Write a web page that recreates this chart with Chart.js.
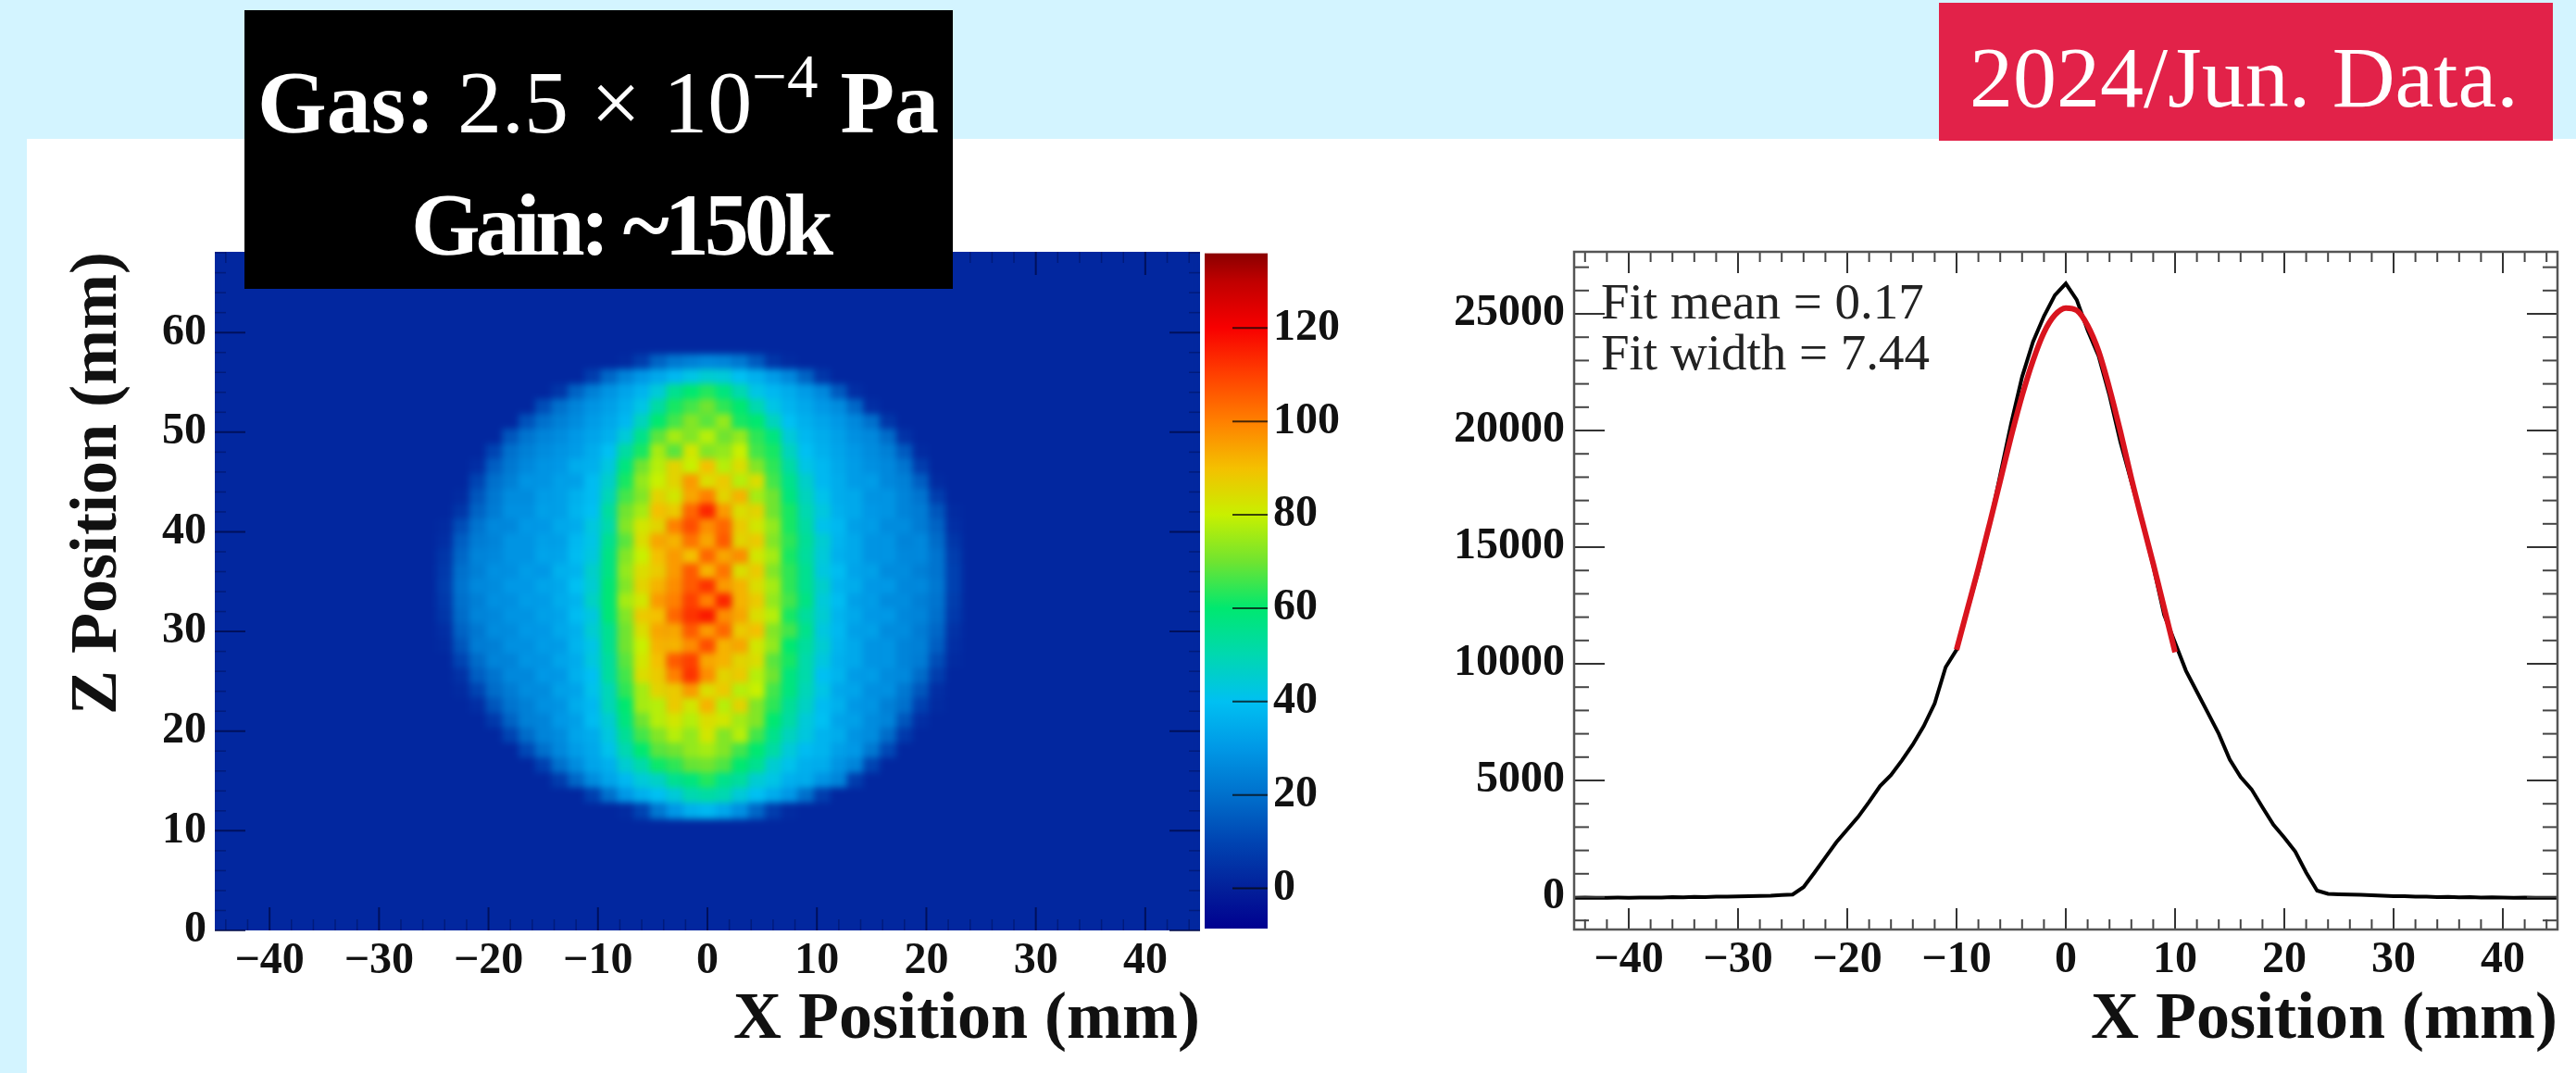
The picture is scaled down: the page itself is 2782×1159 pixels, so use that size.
<!DOCTYPE html>
<html><head><meta charset="utf-8">
<script src="https://cdn.jsdelivr.net/npm/chart.js@4/dist/chart.umd.min.js"></script>
<style>
html,body{margin:0;padding:0;width:2782px;height:1159px;overflow:hidden;background:#d3f4ff}
#panel{position:absolute;left:29px;top:150px;right:0;bottom:0;background:#fff}
canvas{position:absolute;filter:blur(.7px)}
.t{position:absolute;white-space:nowrap;font-family:"Liberation Serif",serif;line-height:1.107;color:#fff}
#gasBox{position:absolute;left:264px;top:11px;width:765px;height:301px;background:#000}
#dateBox{position:absolute;left:2094px;top:3px;width:663px;height:149px;background:#e22249}
</style></head><body>
<div id="panel"></div>
<canvas id="heat" width="1270" height="1009" style="left:29px;top:150px"></canvas>
<canvas id="bar" width="200" height="803" style="left:1300px;top:200px"></canvas>
<canvas id="prof" width="1222" height="959" style="left:1560px;top:200px"></canvas>
<div id="gasBox"></div><div id="dateBox"></div>
<div class="t" style="left:278px;top:58px;font-size:96px"><b>Gas:</b> 2.5 × 10<span style="font-size:67px;position:relative;top:-38px;line-height:0">−4</span> <b>Pa</b></div>
<div class="t" style="left:444px;top:189.5px;font-size:96px;font-weight:bold;letter-spacing:-5px">Gain: ~150k</div>
<div class="t" style="left:2127px;top:31px;font-size:94px">2024/Jun. Data.</div>
<div class="t" style="left:1729px;top:296px;font-size:55px;color:#222;filter:blur(.6px)">Fit mean = 0.17</div>
<div class="t" style="left:1729px;top:351px;font-size:55px;color:#222;filter:blur(.6px)">Fit width = 7.44</div>
<script>
// ---- colour scale
const colorStops = [-8.6,0,10,20,30,40,50,60,70,80,90,100,110,120,130,136];
const colorHex = ['#000090','#03209a','#0044b2','#0070cc','#0098e6','#00c0f2','#00d8b0','#00e870','#70e430','#c8f000','#f4c000','#ff8000','#ff4000','#f80000','#c00000','#8a0000'];
const colorBarRange = [-8.6,136];
const colorTicks = [0,20,40,60,80,100,120];

// ---- heat map (counts per cell; x / z in mm), cells outside the spot sit at the background level
const backgroundLevel = 2;
const heatX = [-25.5,-24,-22.5,-21,-19.5,-18,-16.5,-15,-13.5,-12,-10.5,-9,-7.5,-6,-4.5,-3,-1.5,0,1.5,3,4.5,6,7.5,9,10.5,12,13.5,15,16.5,18,19.5,21,22.5,24];
const heatZ = [57,55.5,54,52.5,51,49.5,48,46.5,45,43.5,42,40.5,39,37.5,36,34.5,33,31.5,30,28.5,27,25.5,24,22.5,21,19.5,18,16.5,15,13.5,12];
const heatValues = [
[2,2,2,2,2,2,2,2,2,2,2,2,3,8,17,22,24,26,25,22,15,6,3,2,2,2,2,2,2,2,2,2,2,2],
[2,2,2,2,2,2,2,2,2,2,8,18,25,30,34,38,42,45,44,40,36,31,26,17,6,2,2,2,2,2,2,2,2,2],
[2,2,2,2,2,2,2,2,6,17,24,29,33,37,44,55,60,63,58,50,42,38,35,31,26,15,4,2,2,2,2,2,2,2],
[2,2,2,2,2,2,2,12,20,25,29,32,36,42,52,62,66,70,64,60,50,42,37,34,30,27,18,4,2,2,2,2,2,2],
[2,2,2,2,2,2,13,20,24,27,31,34,38,48,60,66,72,68,74,62,60,48,40,36,33,30,26,20,6,2,2,2,2,2],
[2,2,2,2,2,14,21,25,27,30,33,36,44,56,68,76,72,78,70,74,64,58,44,38,35,32,28,26,19,5,2,2,2,2],
[2,2,2,2,10,20,24,27,29,31,35,40,52,62,76,68,82,72,74,80,66,62,48,40,36,33,30,27,24,15,3,2,2,2],
[2,2,2,4,16,22,26,29,30,35,36,43,58,70,78,86,80,90,78,84,72,64,52,42,38,34,31,28,26,21,8,2,2,2],
[2,2,2,10,20,24,29,29,32,32,39,46,62,74,80,86,96,84,88,78,84,66,56,46,38,35,31,31,26,24,16,3,2,2],
[2,2,3,14,22,27,27,31,32,36,39,49,66,72,86,82,94,100,86,92,76,70,58,48,41,35,34,29,29,25,21,8,2,2],
[2,2,6,17,23,28,28,32,32,37,40,53,70,76,90,88,104,114,96,84,86,70,62,50,43,36,34,30,29,25,23,14,3,2],
[2,3,12,21,26,26,30,30,34,35,43,51,72,82,86,100,108,98,104,88,82,74,62,52,41,38,32,31,27,27,23,17,4,2],
[2,4,16,23,25,29,29,32,32,38,42,55,68,84,94,92,102,94,106,86,88,72,64,54,45,37,34,29,29,25,26,19,6,2],
[2,6,18,25,26,29,29,33,33,39,43,57,72,80,90,96,90,104,94,98,82,76,62,53,44,36,34,29,29,26,26,21,8,2],
[2,7,20,24,28,28,31,30,36,37,46,57,74,84,88,96,106,92,102,84,88,72,64,55,43,39,33,32,27,27,24,21,9,2],
[2,8,21,26,27,30,30,33,34,40,45,59,72,86,92,98,106,112,96,92,84,76,64,55,46,37,35,30,30,26,26,22,9,2],
[2,7,20,24,28,28,31,31,35,37,47,59,76,82,96,100,110,100,114,92,88,74,66,57,44,39,32,31,27,27,24,21,8,2],
[2,6,19,25,26,29,29,32,33,39,43,59,72,88,90,104,112,116,98,94,84,78,62,53,45,37,34,30,30,26,25,20,7,2],
[2,4,17,22,27,27,30,30,34,36,45,55,70,84,94,94,106,96,104,88,90,72,66,56,43,38,32,32,27,27,23,18,5,2],
[2,3,14,23,24,28,28,31,31,37,42,55,70,80,92,92,98,108,92,94,82,74,60,53,45,37,34,29,29,25,24,16,4,2],
[2,2,10,19,25,25,29,29,33,35,43,53,68,82,90,106,110,94,92,86,84,68,62,51,43,36,34,29,29,25,23,12,3,2],
[2,2,5,16,21,26,26,30,30,36,40,53,66,84,88,100,112,98,86,88,78,70,58,51,40,37,31,31,27,26,19,8,2,2],
[2,2,3,10,19,23,27,27,32,33,41,49,64,76,86,88,96,84,88,78,80,66,58,49,42,34,33,28,28,22,14,4,2,2],
[2,2,2,4,14,21,24,28,29,35,38,49,60,76,78,88,82,92,78,86,72,64,54,47,39,36,30,29,24,20,9,3,2,2],
[2,2,2,2,7,17,24,25,30,32,39,45,58,70,78,82,78,84,82,76,72,60,52,44,40,33,32,27,25,14,4,2,2,2],
[2,2,2,2,2,10,19,25,27,33,35,43,54,66,72,78,74,82,72,78,66,56,48,43,37,35,29,27,19,7,2,2,2,2],
[2,2,2,2,2,2,11,20,26,31,34,41,50,60,68,70,74,76,72,66,60,52,44,39,37,32,30,22,11,2,2,2,2,2],
[2,2,2,2,2,2,2,9,20,27,33,36,45,51,61,64,69,70,67,60,55,45,41,36,35,29,25,10,2,2,2,2,2,2],
[2,2,2,2,2,2,2,2,8,18,27,33,38,44,47,55,58,63,56,53,45,42,36,35,29,25,8,2,2,2,2,2,2,2],
[2,2,2,2,2,2,2,2,2,2,9,20,30,36,40,44,50,52,50,44,40,35,30,20,8,2,2,2,2,2,2,2,2,2],
[2,2,2,2,2,2,2,2,2,2,2,2,3,10,22,30,36,38,34,28,18,8,3,2,2,2,2,2,2,2,2,2,2,2]
];

// ---- projected profile
const profileX = [-45,-44,-43,-42,-41,-40,-39,-38,-37,-36,-35,-34,-33,-32,-31,-30,-29,-28,-27,-26,-25,-24,-23,-22,-21,-20,-19,-18,-17,-16,-15,-14,-13,-12,-11,-10,-9,-8,-7,-6,-5,-4,-3,-2,-1,0,1,2,3,4,5,6,7,8,9,10,11,12,13,14,15,16,17,18,19,20,21,22,23,24,25,26,27,28,29,30,31,32,33,34,35,36,37,38,39,40,41,42,43,44,45];
const profileY = [-30,-20,-30,-25,-20,-25,-15,-20,-15,0,-10,10,0,20,15,30,35,50,60,90,110,430,1050,1700,2350,2900,3440,4080,4760,5230,5860,6540,7330,8300,9850,10600,12300,14000,15900,18100,20300,22300,23800,24900,25800,26300,25600,24300,23200,21500,19500,17800,16100,14200,12100,10900,9700,8800,7900,7000,5900,5150,4620,3850,3100,2550,1950,1050,280,140,120,110,100,80,60,40,35,20,15,0,10,-10,-5,-15,-10,-20,-25,-20,-30,-25,-30];
const fitX = [-10,-9,-8,-7,-6,-5,-4,-3,-2,-1,0,1,2,3,4,5,6,7,8,9,10];
const fitY = [10600,12350,14100,15950,17850,19750,21500,23000,24200,24950,25250,25150,24500,23400,21800,19950,17950,16100,14300,12400,10500];

// ---- axes
const xRange = [-45,45];
const heatZRange = [0,68.1];
const profYRange = [-1389,27660];
const xTicks = [-40,-30,-20,-10,0,10,20,30,40];
const heatZTicks = [0,10,20,30,40,50,60];
const profYTicks = [0,5000,10000,15000,20000,25000];
const xTitle = 'X Position (mm)';
const zTitle = 'Z Position (mm)';

const SERIF = '"Liberation Serif", serif';
const tickFont = {family:SERIF,size:48,weight:'bold'};
const titleFont = {family:SERIF,size:72,weight:'bold'};
const INK = '#111';

function rgb(h){return [1,3,5].map(i=>parseInt(h.slice(i,i+2),16));}
function colorFor(v){
  const s=colorStops; if(v<=s[0])return colorHex[0];
  for(let i=1;i<s.length;i++){ if(v<=s[i]){
    const t=(v-s[i-1])/(s[i]-s[i-1]),a=rgb(colorHex[i-1]),b=rgb(colorHex[i]);
    return `rgb(${a.map((c,k)=>Math.round(c+(b[k]-c)*t)).join(',')})`; } }
  return colorHex[colorHex.length-1];
}
const heatPoints=[];
heatValues.forEach((row,j)=>row.forEach((v,i)=>heatPoints.push({x:heatX[i],y:heatZ[j],v})));

function label(v){return String(v).replace('-','\u2212');}
function fixedTicks(list){return axis=>{axis.ticks=list.map(v=>({value:v}));};}
function linAxis(o){
  return {type:'linear',min:o.range[0],max:o.range[1],position:o.pos,
    grid:{display:false},border:{display:false},
    afterBuildTicks:fixedTicks(o.ticks),
    afterFit:a=>{ if(o.w!==undefined)a.width=o.w; if(o.h!==undefined)a.height=o.h;
      a.paddingLeft=a.paddingRight=a.paddingTop=a.paddingBottom=0; },
    ticks:{font:tickFont,color:INK,padding:o.pad,autoSkip:false,maxRotation:0,minRotation:0,callback:label},
    title:o.title?{display:true,text:o.title,font:titleFont,color:'#111',align:'end',padding:o.titlePad}:{display:false}};
}

// ROOT-style tick marks on every side of a frame, placed with the chart's own scales.
const frameTicks={id:'frameTicks',afterDatasetsDraw(chart,_a,o){
  if(!o.sides)return;
  const c=chart.ctx,A=chart.chartArea,X=chart.scales.x,Y=chart.scales.y;
  c.save();
  const seg=(x1,y1,x2,y2)=>{c.beginPath();c.moveTo(x1,y1);c.lineTo(x2,y2);c.stroke();};
  const vert=(v,len,col,w)=>{const p=X.getPixelForValue(v);c.strokeStyle=col;c.lineWidth=w;
    seg(p,A.bottom,p,A.bottom-len);seg(p,A.top,p,A.top+len);};
  const horiz=(v,len,col,w)=>{const p=Y.getPixelForValue(v);c.strokeStyle=col;c.lineWidth=w;
    if(o.sides!=='right')seg(A.left,p,A.left+len,p);seg(A.right,p,A.right-len,p);};
  if(o.xMajor){ for(let v=-44;v<=44;v+=2){const M=v%10===0;vert(v,M?o.xMajor:o.xMinor,M?o.colM:o.colm,M?o.wM:o.wm);} }
  if(o.yStep){ for(let v=Math.ceil(Y.min/o.yMinorStep)*o.yMinorStep;v<=Y.max;v+=o.yMinorStep){
    const M=v%o.yStep===0; if(M||o.yMinor)horiz(v,M?o.yMajor:o.yMinor,M?o.colM:o.colm,M?o.wM:o.wm);} }
  if(o.box){c.strokeStyle=o.box;c.lineWidth=o.boxW;c.strokeRect(A.left,A.top,A.right-A.left,A.bottom-A.top);}
  c.restore();
}};
const plotFill={id:'plotFill',beforeDatasetsDraw(chart,_a,o){
  if(o.level===undefined)return;const A=chart.chartArea;chart.ctx.save();
  chart.ctx.fillStyle=colorFor(o.level);chart.ctx.fillRect(A.left,A.top,A.right-A.left,A.bottom-A.top);chart.ctx.restore();
},afterDatasetDraw(chart,_a,o){
  if(!o.soften)return;const c=chart.ctx,A=chart.chartArea,w=A.right-A.left,h=A.bottom-A.top;
  c.save();c.beginPath();c.rect(A.left,A.top,w,h);c.clip();c.filter=`blur(${o.soften}px)`;
  c.drawImage(chart.canvas,A.left,A.top,w,h,A.left,A.top,w,h);c.restore();
}};
Chart.register(frameTicks,plotFill);
Chart.defaults.animation=false;
Chart.defaults.responsive=false;
Chart.defaults.plugins.legend.display=false;
Chart.defaults.plugins.tooltip.enabled=false;

new Chart(document.getElementById('heat'),{type:'scatter',
  data:{datasets:[{label:'Counts',data:heatPoints,pointStyle:'rect',pointRadius:12.7,pointBorderWidth:0,
    backgroundColor:c=>c.raw?colorFor(c.raw.v):'#000'}]},
  options:{layout:{autoPadding:false,padding:{top:122,right:3}},
    scales:{
      x:linAxis({range:xRange,pos:'bottom',ticks:xTicks,pad:-3,h:154,title:xTitle,titlePad:{top:0,bottom:13}}),
      y:linAxis({range:heatZRange,pos:'left',ticks:heatZTicks,pad:1,w:203,title:zTitle,titlePad:{top:34,bottom:0}})},
    plugins:{plotFill:{level:backgroundLevel,soften:3.5},
      frameTicks:{sides:'all',xMajor:25,xMinor:12,yMajor:33,yMinor:12,yStep:10,yMinorStep:2,
        colM:'rgba(0,10,70,.75)',colm:'rgba(0,10,70,.4)',wM:2,wm:1.5}}}});

new Chart(document.getElementById('bar'),{type:'bar',
  data:{labels:['scale'],datasets:[{label:'Colour scale',data:[colorBarRange],barPercentage:1,categoryPercentage:1,
    backgroundColor:c=>{const ch=c.chart,Y=ch.scales.y; if(!ch.chartArea||!Y)return colorHex[0];
      const g=ch.ctx.createLinearGradient(0,Y.getPixelForValue(colorBarRange[0]),0,Y.getPixelForValue(colorBarRange[1]));
      colorStops.forEach((s,i)=>g.addColorStop((s-colorBarRange[0])/(colorBarRange[1]-colorBarRange[0]),colorHex[i]));return g;}}]},
  options:{layout:{autoPadding:false,padding:{top:73.6,left:1}},
    scales:{x:{display:false},
      y:linAxis({range:colorBarRange,pos:'right',ticks:colorTicks,pad:-2,w:131})},
    plugins:{frameTicks:{sides:'right',yMajor:38,yStep:20,yMinorStep:20,colM:'rgba(10,10,10,.75)',colm:'#000',wM:2,wm:1}}}});

new Chart(document.getElementById('prof'),{type:'scatter',
  data:{datasets:[
    {label:'Fit',data:fitX.map((x,i)=>({x,y:fitY[i]})),showLine:true,borderColor:'#d9141e',borderWidth:6,pointRadius:0,cubicInterpolationMode:'monotone',order:1},
    {label:'Profile',data:profileX.map((x,i)=>({x,y:profileY[i]})),showLine:true,borderColor:'#000',borderWidth:4,pointRadius:0,tension:0,order:2}]},
  options:{layout:{autoPadding:false,padding:{top:72,right:20}},
    scales:{
      x:linAxis({range:xRange,pos:'bottom',ticks:xTicks,pad:-3,h:155,title:xTitle,titlePad:{top:0,bottom:13}}),
      y:linAxis({range:profYRange,pos:'left',ticks:profYTicks,pad:2,w:140})},
    plugins:{frameTicks:{sides:'all',xMajor:23,xMinor:11,yMajor:33,yMinor:16,yStep:5000,yMinorStep:1000,
      colM:'#333',colm:'#444',wM:2,wm:2,box:'#555',boxW:2.5}}}});
</script>
</body></html>
